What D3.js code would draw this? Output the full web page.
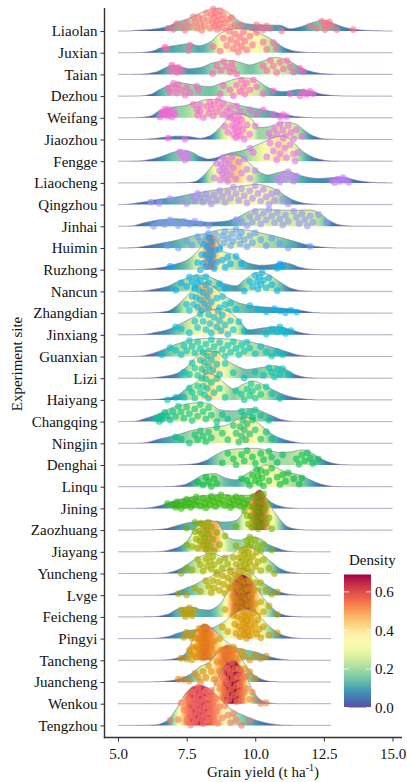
<!DOCTYPE html>
<html>
<head>
<meta charset="utf-8">
<script src="https://cdn.jsdelivr.net/npm/d3@7"></script>
<style>
  body { margin: 0; background: #fff; }
  text { font-family: "Liberation Serif", "Times New Roman", serif; }
</style>
</head>
<body>
<svg id="chart" width="407" height="782"></svg>
<script>
// Experiment sites, listed from the top row to the bottom row
const sites = ["Liaolan","Juxian","Taian","Dezhou","Weifang","Jiaozhou","Fengge","Liaocheng",
  "Qingzhou","Jinhai","Huimin","Ruzhong","Nancun","Zhangdian","Jinxiang","Guanxian","Lizi",
  "Haiyang","Changqing","Ningjin","Denghai","Linqu","Jining","Zaozhuang","Jiayang","Yuncheng",
  "Lvge","Feicheng","Pingyi","Tancheng","Juancheng","Wenkou","Tengzhou"];

const yieldTicks = [5, 7.5, 10, 12.5, 15];
const densityTicks = [0, 0.2, 0.4, 0.6];
const densityMax = 0.69;

// Density profiles per site: [grain yield, density]
const liaolanDensity = [[5.4,0],[5.62,0.008],[6.17,0.024],[6.75,0.064],[7.15,0.139],[7.51,0.19],[7.73,0.234],[8.35,0.339],[8.57,0.361],[8.9,0.326],[9.19,0.228],[9.6,0.12],[10.3,0.096],[10.9,0.09],[11.27,0.035],[11.6,0.06],[12.0,0.12],[12.47,0.17],[12.85,0.12],[13.2,0.064],[13.63,0.024],[14.29,0.005],[14.8,0]];
const juxianDensity = [[5.5,0],[5.9,0.005],[6.3,0.03],[6.53,0.074],[7.14,0.117],[7.6,0.143],[7.95,0.11],[8.35,0.17],[8.7,0.3],[9.1,0.37],[9.45,0.38],[9.9,0.35],[10.4,0.26],[10.78,0.16],[11.1,0.07],[11.5,0.02],[12.0,0.003],[12.4,0]];
const taianDensity = [[5.5,0],[5.9,0.005],[6.4,0.04],[6.7,0.1],[7.0,0.15],[7.3,0.12],[7.6,0.09],[8.0,0.11],[8.5,0.19],[9.05,0.225],[9.45,0.19],[9.8,0.15],[10.2,0.2],[10.75,0.27],[11.2,0.22],[11.6,0.12],[12.0,0.05],[12.4,0.015],[13.0,0]];
const dezhouDensity = [[5.5,0],[5.9,0.005],[6.2,0.03],[6.5,0.1],[6.9,0.18],[7.14,0.218],[7.6,0.19],[8.35,0.15],[8.8,0.21],[9.57,0.29],[10.0,0.26],[10.5,0.13],[11.0,0.07],[11.6,0.105],[12.0,0.08],[12.5,0.025],[13.0,0.005],[13.4,0]];
const weifangDensity = [[5.4,0],[5.8,0.005],[6.2,0.03],[6.5,0.11],[7.0,0.17],[7.4,0.19],[7.8,0.24],[8.3,0.29],[8.6,0.29],[9.0,0.25],[9.5,0.19],[10.0,0.15],[10.5,0.11],[11.0,0.06],[11.5,0.02],[12.0,0.003],[12.4,0]];
const jiaozhouDensity = [[5.5,0],[5.9,0.002],[6.3,0.015],[6.8,0.04],[7.2,0.053],[7.6,0.045],[8.0,0.02],[8.3,0.05],[8.6,0.14],[8.85,0.26],[9.1,0.36],[9.35,0.41],[9.6,0.39],[9.85,0.33],[10.15,0.19],[10.45,0.2],[10.8,0.25],[11.2,0.275],[11.5,0.24],[11.75,0.16],[12.1,0.06],[12.5,0.01],[13.0,0]];
const fenggeDensity = [[5.4,0],[5.8,0.005],[6.2,0.03],[6.55,0.07],[7.0,0.14],[7.38,0.175],[7.7,0.14],[8.0,0.07],[8.3,0.035],[8.7,0.07],[9.0,0.12],[9.57,0.175],[10.17,0.28],[10.78,0.385],[11.0,0.4],[11.39,0.3],[11.75,0.15],[12.24,0.042],[12.7,0.005],[13.1,0]];
const liaochengDensity = [[7.1,0],[7.5,0.003],[7.8,0.02],[8.1,0.11],[8.35,0.23],[8.7,0.39],[9.05,0.45],[9.35,0.44],[9.6,0.38],[9.95,0.25],[10.2,0.16],[10.45,0.125],[10.8,0.16],[11.15,0.19],[11.5,0.14],[11.85,0.095],[12.3,0.07],[12.7,0.08],[13.15,0.095],[13.6,0.05],[14.0,0.018],[14.4,0.004],[14.8,0]];
const qingzhouDensity = [[5.0,0],[5.3,0.005],[5.9,0.04],[6.5,0.085],[7.1,0.12],[7.7,0.17],[8.35,0.22],[8.95,0.26],[9.55,0.3],[10.1,0.32],[10.45,0.29],[10.75,0.24],[11.1,0.14],[11.45,0.06],[11.9,0.015],[12.4,0.002],[12.8,0]];
const jinhaiDensity = [[5.1,0],[5.5,0.005],[5.9,0.05],[6.5,0.1],[7.1,0.12],[7.7,0.09],[8.35,0.065],[8.9,0.08],[9.3,0.13],[9.8,0.24],[10.2,0.275],[10.8,0.26],[11.4,0.255],[12.0,0.26],[12.4,0.19],[12.7,0.09],[13.1,0.02],[13.6,0.002],[14.0,0]];
const huiminDensity = [[5.2,0],[5.6,0.005],[6.0,0.03],[6.5,0.07],[7.1,0.12],[7.7,0.19],[8.35,0.25],[8.7,0.29],[9.2,0.3],[9.6,0.29],[10.2,0.24],[10.8,0.18],[11.4,0.11],[11.9,0.05],[12.4,0.015],[12.9,0.002],[13.3,0]];
const ruzhongDensity = [[5.5,0],[5.9,0.005],[6.5,0.03],[7.1,0.09],[7.5,0.15],[7.75,0.23],[8.0,0.35],[8.2,0.5],[8.4,0.55],[8.6,0.45],[8.8,0.3],[9.2,0.24],[9.5,0.16],[9.8,0.1],[10.2,0.07],[10.6,0.08],[11.0,0.115],[11.3,0.09],[11.6,0.04],[12.0,0.008],[12.4,0]];
const nancunDensity = [[5.5,0],[5.9,0.005],[6.4,0.04],[6.8,0.08],[7.15,0.15],[7.5,0.21],[7.85,0.26],[8.2,0.25],[8.55,0.19],[8.9,0.12],[9.3,0.09],[9.6,0.18],[9.95,0.28],[10.2,0.31],[10.55,0.25],[10.9,0.15],[11.3,0.05],[11.7,0.01],[12.1,0]];
const zhangdianDensity = [[5.9,0],[6.3,0.005],[6.8,0.03],[7.15,0.12],[7.45,0.25],[7.75,0.37],[8.0,0.45],[8.2,0.48],[8.45,0.42],[8.8,0.3],[9.1,0.22],[9.5,0.15],[10.0,0.11],[10.6,0.09],[11.2,0.07],[11.7,0.04],[12.1,0.01],[12.5,0]];
const jinxiangDensity = [[5.5,0],[5.9,0.005],[6.4,0.04],[6.8,0.08],[7.15,0.15],[7.75,0.28],[8.35,0.39],[8.7,0.41],[9.05,0.36],[9.4,0.24],[9.75,0.08],[10.3,0.11],[10.85,0.13],[11.3,0.08],[11.7,0.03],[12.1,0.005],[12.5,0]];
const guanxianDensity = [[5.4,0],[5.8,0.005],[6.2,0.04],[6.6,0.1],[7.15,0.2],[7.75,0.27],[8.35,0.29],[8.95,0.28],[9.55,0.25],[10.15,0.2],[10.75,0.13],[11.2,0.07],[11.55,0.025],[12.0,0.003],[12.4,0]];
const liziDensity = [[5.8,0],[6.2,0.005],[6.7,0.03],[7.1,0.07],[7.5,0.18],[7.85,0.34],[8.2,0.43],[8.55,0.42],[8.9,0.3],[9.3,0.2],[9.7,0.14],[10.2,0.17],[10.7,0.2],[11.1,0.14],[11.5,0.05],[11.9,0.01],[12.3,0]];
const haiyangDensity = [[5.9,0],[6.3,0.005],[6.83,0.03],[7.2,0.08],[7.5,0.186],[7.87,0.29],[8.1,0.37],[8.3,0.42],[8.6,0.37],[8.96,0.24],[9.2,0.175],[9.57,0.25],[9.93,0.3],[10.3,0.24],[10.78,0.133],[11.27,0.053],[11.75,0.015],[12.2,0]];
const changqingDensity = [[5.2,0],[5.6,0.005],[6.0,0.05],[6.53,0.13],[6.9,0.21],[7.38,0.27],[7.9,0.3],[8.3,0.29],[8.72,0.186],[9.2,0.17],[9.8,0.21],[10.2,0.17],[10.54,0.106],[11.0,0.027],[11.4,0.003],[11.8,0]];
const ningjinDensity = [[5.5,0],[5.9,0.005],[6.53,0.07],[7.14,0.133],[7.74,0.21],[8.35,0.25],[8.96,0.29],[9.3,0.37],[9.65,0.41],[10.0,0.35],[10.42,0.21],[10.78,0.106],[11.27,0.035],[11.7,0.004],[12.1,0]];
const denghaiDensity = [[6.9,0],[7.3,0.003],[7.8,0.02],[8.2,0.07],[8.6,0.17],[9.0,0.24],[9.5,0.26],[10.0,0.265],[10.4,0.24],[10.9,0.2],[11.3,0.21],[11.7,0.24],[12.0,0.2],[12.4,0.1],[12.8,0.03],[13.2,0.004],[13.6,0]];
const linquDensity = [[6.5,0],[6.9,0.003],[7.4,0.03],[7.74,0.1],[8.1,0.186],[8.5,0.21],[8.96,0.133],[9.3,0.11],[9.7,0.21],[10.05,0.29],[10.4,0.345],[10.78,0.3],[11.15,0.23],[11.5,0.2],[11.9,0.13],[12.4,0.04],[12.9,0.003],[13.3,0]];
const jiningDensity = [[5.6,0],[6.0,0.005],[6.5,0.04],[6.9,0.1],[7.3,0.15],[7.8,0.19],[8.3,0.21],[8.8,0.22],[9.2,0.2],[9.6,0.21],[10.0,0.2],[10.4,0.14],[10.8,0.05],[11.2,0.01],[11.6,0]];
const zaozhuangDensity = [[5.8,0],[6.2,0.003],[6.7,0.02],[7.14,0.07],[7.6,0.12],[8.0,0.14],[8.5,0.13],[9.0,0.13],[9.32,0.16],[9.57,0.29],[9.81,0.45],[10.0,0.6],[10.17,0.64],[10.4,0.52],[10.6,0.35],[10.78,0.24],[11.0,0.12],[11.2,0.05],[11.5,0.015],[11.9,0]];
const jiayangDensity = [[6.1,0],[6.5,0.003],[7.14,0.064],[7.5,0.16],[7.74,0.32],[7.99,0.45],[8.23,0.5],[8.6,0.48],[8.84,0.32],[9.08,0.21],[9.44,0.186],[9.81,0.24],[10.17,0.21],[10.42,0.13],[10.78,0.064],[11.14,0.015],[11.5,0]];
const yunchengDensity = [[6.3,0],[6.7,0.003],[7.0,0.03],[7.38,0.1],[7.74,0.21],[8.11,0.29],[8.35,0.32],[8.6,0.3],[8.84,0.265],[9.08,0.29],[9.44,0.4],[9.69,0.42],[10.05,0.37],[10.29,0.29],[10.66,0.16],[10.9,0.08],[11.27,0.02],[11.7,0]];
const lvgeDensity = [[6.2,0],[6.6,0.003],[7.0,0.03],[7.4,0.1],[7.8,0.17],[8.2,0.26],[8.6,0.34],[9.0,0.4],[9.4,0.42],[9.8,0.36],[10.2,0.22],[10.5,0.14],[10.9,0.05],[11.3,0.01],[11.7,0]];
const feichengDensity = [[5.9,0],[6.3,0.003],[6.8,0.04],[7.2,0.13],[7.6,0.16],[8.0,0.12],[8.3,0.11],[8.7,0.2],[9.0,0.4],[9.3,0.6],[9.55,0.67],[9.8,0.6],[10.05,0.45],[10.3,0.3],[10.6,0.15],[10.9,0.05],[11.3,0.01],[11.7,0]];
const pingyiDensity = [[5.9,0],[6.3,0.003],[6.8,0.03],[7.2,0.09],[7.6,0.13],[8.0,0.15],[8.4,0.17],[8.8,0.25],[9.2,0.38],[9.6,0.46],[9.9,0.44],[10.2,0.33],[10.5,0.2],[10.8,0.1],[11.1,0.04],[11.5,0.008],[11.9,0]];
const tanchengDensity = [[6.2,0],[6.6,0.003],[7.0,0.02],[7.3,0.06],[7.5,0.13],[7.7,0.3],[7.9,0.5],[8.15,0.58],[8.4,0.52],[8.7,0.4],[9.0,0.28],[9.3,0.2],[9.7,0.16],[10.1,0.12],[10.5,0.06],[10.9,0.02],[11.3,0]];
const juanchengDensity = [[6.0,0],[6.4,0.003],[6.9,0.02],[7.3,0.06],[7.7,0.14],[8.0,0.25],[8.3,0.3],[8.6,0.45],[8.96,0.58],[9.3,0.5],[9.6,0.3],[9.9,0.13],[10.2,0.05],[10.5,0.012],[10.9,0]];
const wenkouDensity = [[7.0,0],[7.4,0.003],[7.8,0.02],[8.1,0.07],[8.4,0.2],[8.7,0.45],[8.95,0.64],[9.2,0.69],[9.45,0.6],[9.7,0.4],[9.95,0.18],[10.2,0.06],[10.5,0.012],[10.8,0]];
const tengzhouDensity = [[5.6,0],[6.0,0.002],[6.4,0.01],[6.77,0.07],[7.14,0.27],[7.5,0.53],[7.75,0.62],[7.99,0.64],[8.35,0.58],[8.72,0.42],[9.08,0.27],[9.57,0.16],[10.05,0.08],[10.54,0.027],[11.0,0.004],[11.4,0]];

// Observed grain yields (t/ha) per site
const liaolanYield = [6.83,7.02,7.14,7.32,7.44,7.5,7.62,7.74,7.8,7.87,7.93,8.0,8.05,8.1,8.15,8.23,8.3,8.35,8.41,8.45,8.47,8.5,8.53,8.55,8.59,8.62,8.66,8.7,8.72,8.78,8.8,8.84,8.9,8.96,9.02,9.1,9.14,9.26,9.38,9.5,9.81,10.05,10.2,10.29,10.42,10.54,10.96,11.99,12.24,12.42,12.5,12.54,12.6,12.66,12.7,12.78,12.97,13.57];
const juxianYield = [6.71,6.77,7.56,7.62,8.47,8.72,8.84,8.96,9.05,9.1,9.2,9.25,9.32,9.38,9.44,9.5,9.57,9.62,9.69,9.81,9.9,10.05,10.29,10.42,10.66,10.78];
const taianYield = [6.9,6.96,7.08,7.15,7.2,7.32,8.45,8.59,8.75,8.84,8.96,9.08,9.15,9.2,9.32,10.29,10.42,10.55,10.66,10.78,10.9,11.02,11.15,11.27,11.39,11.63,11.75];
const dezhouYield = [6.83,6.89,7.02,7.1,7.14,7.2,7.32,7.44,7.5,7.62,7.87,7.93,8.72,8.84,9.08,9.2,9.32,9.44,9.5,9.57,9.62,9.69,9.81,9.93,10.05,10.29,10.66,11.27,11.63,11.75,11.87,11.99,12.11];
const weifangYield = [6.53,6.6,6.65,6.71,6.77,6.8,6.83,6.89,6.96,7.02,7.08,7.74,7.87,7.9,7.99,8.0,8.11,8.23,8.3,8.35,8.4,8.47,8.5,8.59,8.65,8.72,8.8,8.84,8.96,9.0,9.08,9.2,9.32,9.45,9.57,9.81,10.05,10.29,10.66,10.9,11.02,11.14];
const jiaozhouYield = [6.83,7.44,8.9,9.0,9.1,9.15,9.2,9.22,9.25,9.3,9.32,9.35,9.4,9.42,9.45,9.5,9.55,9.6,9.7,9.8,10.0,10.5,10.6,10.7,10.8,10.9,11.0,11.1,11.2,11.3,11.4,11.5,11.7];
const fenggeYield = [7.25,7.32,7.44,7.5,7.56,9.81,9.93,10.42,10.54,10.66,10.78,10.84,10.9,11.02,11.08,11.14,11.27,11.39,11.45,11.57];
const liaochengYield = [8.5,8.6,8.7,8.72,8.75,8.8,8.82,8.85,8.9,8.92,8.95,9.0,9.05,9.1,9.15,9.2,9.3,9.4,9.5,9.6,9.7,9.8,10.0,10.8,10.9,11.0,11.1,11.2,11.3,11.4,11.5,12.8,12.9,13.0,13.1,13.2,13.3,13.4];
const qingzhouYield = [6.2,6.5,6.9,7.3,7.5,7.7,7.8,7.9,8.0,8.1,8.2,8.3,8.4,8.5,8.6,8.7,8.8,8.9,9.0,9.1,9.2,9.3,9.4,9.5,9.6,9.7,9.8,9.9,10.0,10.1,10.2,10.3,10.4,10.5,10.6,10.7,10.8,11.0,11.2];
const jinhaiYield = [6.3,6.5,6.7,6.9,7.0,7.2,7.4,7.6,7.8,8.0,8.3,9.3,9.5,9.7,9.8,9.9,10.0,10.1,10.2,10.3,10.4,10.5,10.6,10.7,10.8,10.9,11.0,11.1,11.2,11.4,11.5,11.6,11.7,11.8,11.9,12.0,12.1,12.3,12.6];
const huiminYield = [6.8,7.2,7.5,7.7,7.9,8.0,8.1,8.2,8.25,8.3,8.4,8.5,8.55,8.6,8.7,8.8,8.85,8.9,9.0,9.1,9.15,9.2,9.3,9.4,9.45,9.5,9.6,9.7,9.8,9.9,10.0,10.2,10.4,10.6,10.9,11.2,12.0];
const ruzhongYield = [6.9,7.9,8.0,8.05,8.1,8.15,8.2,8.22,8.25,8.3,8.32,8.35,8.4,8.42,8.45,8.5,8.55,8.6,8.7,8.8,8.9,9.0,9.1,9.3,9.5,10.8,10.9,11.0];
const nancunYield = [7.1,7.3,7.5,7.6,7.7,7.8,7.85,7.9,7.95,8.0,8.1,8.2,8.3,8.5,8.7,8.9,9.6,9.8,9.9,10.0,10.05,10.1,10.15,10.2,10.25,10.3,10.4,10.5,10.6,10.8];
const zhangdianYield = [7.5,7.6,7.7,7.75,7.8,7.85,7.9,7.95,8.0,8.05,8.1,8.15,8.2,8.25,8.3,8.35,8.4,8.5,8.6,8.7,8.8,8.9,9.0,9.1,9.3,9.8,10.1,10.4,10.7,10.9,11.1,11.3,11.5];
const jinxiangYield = [7.1,7.3,7.6,7.8,7.9,8.0,8.1,8.2,8.3,8.35,8.4,8.5,8.6,8.65,8.7,8.75,8.8,8.9,9.0,9.1,9.2,9.4,9.6,10.4,10.6,10.8,10.9,11.0,11.1,11.3];
const guanxianYield = [6.6,6.9,7.1,7.3,7.4,7.5,7.6,7.7,7.8,7.9,8.0,8.1,8.2,8.3,8.4,8.5,8.6,8.7,8.8,8.9,9.0,9.1,9.2,9.3,9.4,9.5,9.6,9.7,9.8,10.0,10.2,10.4,10.6,10.8,11.0];
const liziYield = [7.4,7.6,7.7,7.8,7.9,8.0,8.05,8.1,8.15,8.2,8.25,8.3,8.35,8.4,8.45,8.5,8.6,8.7,8.9,9.2,9.6,10.0,10.3,10.5,10.6,10.7,10.8,10.9,11.0,11.2];
const haiyangYield = [6.8,7.1,7.4,7.6,7.7,7.8,7.9,8.0,8.05,8.1,8.15,8.2,8.25,8.3,8.4,8.5,8.6,8.7,8.9,9.3,9.5,9.6,9.7,9.8,9.85,9.9,10.0,10.1,10.2,10.4,10.6,10.9];
const changqingYield = [6.4,6.5,6.55,6.6,6.7,6.8,6.9,7.0,7.1,7.2,7.3,7.4,7.5,7.6,7.7,7.8,7.9,8.0,8.1,8.2,8.3,8.4,8.6,8.8,9.0,9.5,9.6,9.7,9.8,9.9,10.0,10.2,10.5];
const ningjinYield = [7.1,7.3,7.6,7.8,7.9,8.0,8.1,8.2,8.3,8.4,8.6,8.8,9.0,9.2,9.3,9.4,9.45,9.5,9.55,9.6,9.65,9.7,9.8,9.9,10.0,10.2,10.4,10.6];
const denghaiYield = [8.8,9.0,9.2,9.3,9.5,9.6,9.7,9.9,10.0,10.2,10.3,10.5,10.6,10.8,11.0,11.5,11.6,11.7,11.8,11.9,12.0,12.1,12.3];
const linquYield = [7.9,8.1,8.2,8.3,8.4,8.5,8.6,9.5,9.7,9.8,9.9,10.0,10.05,10.1,10.15,10.2,10.25,10.3,10.4,10.5,10.6,10.8,10.9,11.0,11.1,11.2,11.4,11.6,11.7];
const jiningYield = [6.8,7.0,7.1,7.15,7.2,7.3,7.4,7.45,7.5,7.6,7.65,7.7,7.8,7.85,7.9,8.0,8.1,8.15,8.2,8.3,8.35,8.4,8.5,8.55,8.6,8.7,8.75,8.8,8.9,9.0,9.05,9.1,9.2,9.25,9.3,9.4,9.45,9.5,9.6,9.65,9.7,9.8,9.9,10.0,10.2,10.4];
const zaozhuangYield = [7.5,7.8,8.0,8.3,8.6,9.3,9.6,9.7,9.75,9.8,9.85,9.88,9.9,9.92,9.95,10.0,10.02,10.05,10.08,10.1,10.12,10.15,10.18,10.2,10.22,10.25,10.28,10.3,10.35,10.4,10.45,10.5,10.6];
const jiayangYield = [7.5,7.7,7.8,7.85,7.9,7.95,8.0,8.02,8.05,8.1,8.12,8.15,8.2,8.22,8.25,8.28,8.3,8.35,8.4,8.45,8.5,8.6,8.7,8.9,9.3,9.5,9.7,9.75,9.8,9.85,9.9,10.0,10.1,10.2,10.3,10.6];
const yunchengYield = [7.3,7.5,7.7,7.9,8.0,8.1,8.2,8.25,8.3,8.35,8.4,8.45,8.5,8.6,8.7,8.8,8.9,9.0,9.1,9.2,9.3,9.4,9.42,9.45,9.5,9.52,9.55,9.6,9.62,9.65,9.7,9.72,9.75,9.8,9.85,9.9,10.0,10.05,10.1,10.2,10.3,10.5,10.7];
const lvgeYield = [7.2,7.5,7.8,8.0,8.2,8.3,8.4,8.45,8.5,8.6,8.65,8.7,8.8,8.85,8.9,9.0,9.05,9.1,9.15,9.2,9.25,9.28,9.3,9.35,9.38,9.4,9.45,9.48,9.5,9.55,9.6,9.65,9.7,9.75,9.8,9.9,10.0,10.1,10.2,10.4,10.6,10.8];
const feichengYield = [7.3,7.4,7.45,7.5,7.55,7.6,7.65,7.7,7.8,8.9,9.1,9.2,9.25,9.3,9.32,9.35,9.4,9.42,9.45,9.48,9.5,9.52,9.55,9.58,9.6,9.62,9.65,9.68,9.7,9.72,9.75,9.8,9.85,9.9,9.95,10.0,10.1,10.2,10.3,10.5,10.8];
const pingyiYield = [7.4,7.5,7.6,7.7,7.8,8.0,8.2,8.4,8.6,8.8,9.0,9.2,9.25,9.3,9.35,9.4,9.45,9.5,9.52,9.55,9.58,9.6,9.62,9.65,9.68,9.7,9.72,9.75,9.78,9.8,9.85,9.9,9.95,10.0,10.05,10.1,10.15,10.2,10.3,10.5,10.8];
const tanchengYield = [7.3,7.5,7.6,7.65,7.7,7.72,7.75,7.8,7.82,7.85,7.88,7.9,7.95,7.98,8.0,8.05,8.08,8.1,8.15,8.18,8.2,8.25,8.3,8.35,8.4,8.45,8.5,8.6,8.7,8.8,8.9,9.0,9.1,9.2,9.3,9.4,9.5,9.6,9.8,10.0,10.2,10.4];
const juanchengYield = [7.2,7.4,7.6,7.8,7.9,8.0,8.1,8.2,8.3,8.4,8.5,8.6,8.7,8.75,8.8,8.85,8.9,8.92,8.95,9.0,9.02,9.05,9.1,9.12,9.15,9.2,9.25,9.3,9.35,9.4,9.45,9.5,9.6,9.7,9.8,10.0];
const wenkouYield = [8.5,8.6,8.7,8.75,8.8,8.85,8.9,8.92,8.95,9.0,9.02,9.05,9.1,9.12,9.15,9.2,9.22,9.25,9.3,9.32,9.35,9.4,9.42,9.45,9.5,9.55,9.6,9.65,9.7,9.8,9.9,10.0,10.2,10.4];
const tengzhouYield = [6.9,7.2,7.3,7.4,7.5,7.55,7.6,7.65,7.7,7.72,7.75,7.8,7.82,7.85,7.9,7.92,7.95,8.0,8.02,8.05,8.1,8.12,8.15,8.2,8.22,8.25,8.3,8.35,8.4,8.45,8.5,8.55,8.6,8.65,8.7,8.8,8.9,9.0,9.1,9.2,9.3,9.5,9.8];

const densityBySite = [liaolanDensity, juxianDensity, taianDensity, dezhouDensity, weifangDensity,
  jiaozhouDensity, fenggeDensity, liaochengDensity, qingzhouDensity, jinhaiDensity, huiminDensity,
  ruzhongDensity, nancunDensity, zhangdianDensity, jinxiangDensity, guanxianDensity, liziDensity,
  haiyangDensity, changqingDensity, ningjinDensity, denghaiDensity, linquDensity, jiningDensity,
  zaozhuangDensity, jiayangDensity, yunchengDensity, lvgeDensity, feichengDensity, pingyiDensity,
  tanchengDensity, juanchengDensity, wenkouDensity, tengzhouDensity];
const yieldBySite = [liaolanYield, juxianYield, taianYield, dezhouYield, weifangYield,
  jiaozhouYield, fenggeYield, liaochengYield, qingzhouYield, jinhaiYield, huiminYield,
  ruzhongYield, nancunYield, zhangdianYield, jinxiangYield, guanxianYield, liziYield,
  haiyangYield, changqingYield, ningjinYield, denghaiYield, linquYield, jiningYield,
  zaozhuangYield, jiayangYield, yunchengYield, lvgeYield, feichengYield, pingyiYield,
  tanchengYield, juanchengYield, wenkouYield, tengzhouYield];

const ridges = sites.map((site, i) => ({ site, index: i, knots: densityBySite[i], yields: yieldBySite[i] }));

// ---------- helpers ----------
// Monotone cubic (Fritsch–Carlson) curve through the density knots
function monotoneCurve(knots) {
  const xs = knots.map(k => k[0]), ys = knots.map(k => k[1]);
  const n = xs.length, dx = [], s = [], m = new Array(n);
  for (let i = 0; i < n - 1; i++) { dx[i] = xs[i + 1] - xs[i]; s[i] = (ys[i + 1] - ys[i]) / dx[i]; }
  m[0] = s[0]; m[n - 1] = s[n - 2];
  for (let i = 1; i < n - 1; i++) {
    if (s[i - 1] * s[i] <= 0) m[i] = 0;
    else m[i] = 3 * (dx[i - 1] + dx[i]) / ((2 * dx[i] + dx[i - 1]) / s[i - 1] + (dx[i] + 2 * dx[i - 1]) / s[i]);
  }
  return v => {
    if (v <= xs[0] || v >= xs[n - 1]) return 0;
    let i = d3.bisectRight(xs, v) - 1;
    const t = (v - xs[i]) / dx[i], t2 = t * t, t3 = t2 * t;
    const val = (2 * t3 - 3 * t2 + 1) * ys[i] + (t3 - 2 * t2 + t) * dx[i] * m[i]
      + (-2 * t3 + 3 * t2) * ys[i + 1] + (t3 - t2) * dx[i] * m[i + 1];
    return Math.max(0, val);
  };
}

// ggplot-style hue colour: polar CIE-Luv to sRGB
function hueColour(h, c = 100, l = 65) {
  const hr = h * Math.PI / 180, u = c * Math.cos(hr), v = c * Math.sin(hr);
  const Xn = 95.047, Yn = 100, Zn = 108.883;
  const den = Xn + 15 * Yn + 3 * Zn, un = 4 * Xn / den, vn = 9 * Yn / den;
  const Y = Yn * Math.pow((l + 16) / 116, 3);
  const up = u / (13 * l) + un, vp = v / (13 * l) + vn;
  const X = Y * 9 * up / (4 * vp), Z = Y * (12 - 3 * up - 20 * vp) / (4 * vp);
  const lin = [
    (3.240479 * X - 1.537150 * Y - 0.498535 * Z) / 100,
    (-0.969256 * X + 1.875992 * Y + 0.041556 * Z) / 100,
    (0.055648 * X - 0.204043 * Y + 1.057311 * Z) / 100];
  const g = c0 => { const cc = Math.min(1, Math.max(0, c0));
    return cc <= 0.0031308 ? 12.92 * cc : 1.055 * Math.pow(cc, 1 / 2.4) - 0.055; };
  return d3.rgb(...lin.map(q => Math.round(g(q) * 255))).formatHex();
}

// ---------- scales ----------
const svg = d3.select("#chart");
const x = d3.scaleLinear().domain([5, 15]).range([118, 392.5]);
const y = d3.scalePoint().domain(sites).range([31, 725.4]);
const h = d3.scaleLinear().domain([0, densityMax]).range([0, 43.3]);
const fillColour = d3.scaleSequential(t => d3.interpolateSpectral(1 - t)).domain([0, densityMax]);
const siteColour = d3.scaleOrdinal().domain(sites)
  .range(sites.map((s, i) => hueColour(15 + 360 * (sites.length - 1 - i) / sites.length)));

const grid = d3.range(5, 15.0001, 0.025);
const defs = svg.append("defs");
const plot = svg.append("g");

// ---------- ridges, drawn top row first so lower rows overlap ----------
ridges.forEach(r => {
  const dens = monotoneCurve(r.knots);
  const samples = grid.map(v => ({ v, d: dens(v) }));
  const base = y(r.site);

  const gid = "grad" + r.index;
  const grad = defs.append("linearGradient").attr("id", gid)
    .attr("gradientUnits", "userSpaceOnUse")
    .attr("x1", x(5)).attr("x2", x(15)).attr("y1", 0).attr("y2", 0);
  grad.selectAll("stop").data(samples.filter((s, k) => k % 2 === 0)).join("stop")
    .attr("offset", s => (s.v - 5) / 10)
    .attr("stop-color", s => fillColour(s.d));

  const g = plot.append("g").attr("class", "ridge");
  g.append("path").datum(samples)
    .attr("d", d3.area().x(s => x(s.v)).y0(base).y1(s => base - h(s.d)))
    .attr("fill", `url(#${gid})`);
  g.append("path").datum(samples)
    .attr("d", d3.line().x(s => x(s.v)).y(s => base - h(s.d)))
    .attr("fill", "none").attr("stroke", "#7c7c9c").attr("stroke-width", 0.7);

  // points spread inside the ridge (sina-like)
  const pts = r.yields.map((v, j) => {
    const frac = ((j + 1) * 0.6180339887 + r.index * 0.377) % 1;
    return { v, cy: base - frac * h(dens(v)) };
  });
  g.selectAll("circle").data(pts).join("circle")
    .attr("cx", p => x(p.v)).attr("cy", p => p.cy).attr("r", 3.4)
    .attr("fill", siteColour(r.site)).attr("fill-opacity", 0.6);
});

// ---------- legend (white panel over the ridge baselines) ----------
const legend = svg.append("g");
legend.append("rect").attr("x", 331).attr("y", 549).attr("width", 76).attr("height", 184).attr("fill", "#fff");
legend.append("text").attr("x", 349).attr("y", 565).attr("font-size", 15).attr("fill", "#111").text("Density");
const barY = d3.scaleLinear().domain([0, densityMax]).range([707.5, 574.5]);
const lg = defs.append("linearGradient").attr("id", "legendGrad")
  .attr("x1", 0).attr("x2", 0).attr("y1", 1).attr("y2", 0);
lg.selectAll("stop").data(d3.range(0, 1.0001, 0.02)).join("stop")
  .attr("offset", t => t).attr("stop-color", t => fillColour(t * densityMax));
legend.append("rect").attr("x", 344).attr("y", barY(densityMax)).attr("width", 27)
  .attr("height", barY(0) - barY(densityMax)).attr("fill", "url(#legendGrad)");
densityTicks.forEach(t => {
  legend.append("line").attr("x1", 344).attr("x2", 349).attr("y1", barY(t)).attr("y2", barY(t))
    .attr("stroke", "#fff").attr("stroke-width", 0.8);
  legend.append("line").attr("x1", 366).attr("x2", 371).attr("y1", barY(t)).attr("y2", barY(t))
    .attr("stroke", "#fff").attr("stroke-width", 0.8);
});
legend.selectAll("text.tick").data(densityTicks).join("text").attr("class", "tick")
  .attr("x", 375).attr("y", t => barY(t)).attr("dy", "0.35em")
  .attr("font-size", 15).attr("fill", "#111").text(d3.format(".1f"));

// ---------- axes ----------
const yAxis = svg.append("g").attr("transform", "translate(104.5,0)")
  .call(d3.axisLeft(y).tickSize(4).tickPadding(3));
const xAxis = svg.append("g").attr("transform", "translate(0,737.5)")
  .call(d3.axisBottom(x).tickValues(yieldTicks).tickFormat(d3.format(".1f")).tickSize(4).tickPadding(7));
[yAxis, xAxis].forEach(a => {
  a.select(".domain").remove();
  a.selectAll(".tick line").attr("stroke", "#333").attr("stroke-width", 1);
  a.selectAll(".tick text").attr("font-family", "Liberation Serif, serif").attr("font-size", 15).attr("fill", "#111");
});
svg.append("line").attr("x1", 104.5).attr("x2", 104.5).attr("y1", 8).attr("y2", 738.2)
  .attr("stroke", "#333").attr("stroke-width", 1.4);
svg.append("line").attr("x1", 103.8).attr("x2", 402).attr("y1", 737.5).attr("y2", 737.5)
  .attr("stroke", "#333").attr("stroke-width", 1.4);

// axis titles
svg.append("text").attr("transform", "translate(22,364) rotate(-90)")
  .attr("text-anchor", "middle").attr("font-size", 15).attr("fill", "#111").text("Experiment site");
const xt = svg.append("text").attr("x", 263).attr("y", 777).attr("text-anchor", "middle")
  .attr("font-size", 15).attr("fill", "#111");
xt.append("tspan").text("Grain yield (t ha");
xt.append("tspan").attr("font-size", 10).attr("dy", -6).text("-1");
xt.append("tspan").attr("dy", 6).text(")");
</script>
</body>
</html>
